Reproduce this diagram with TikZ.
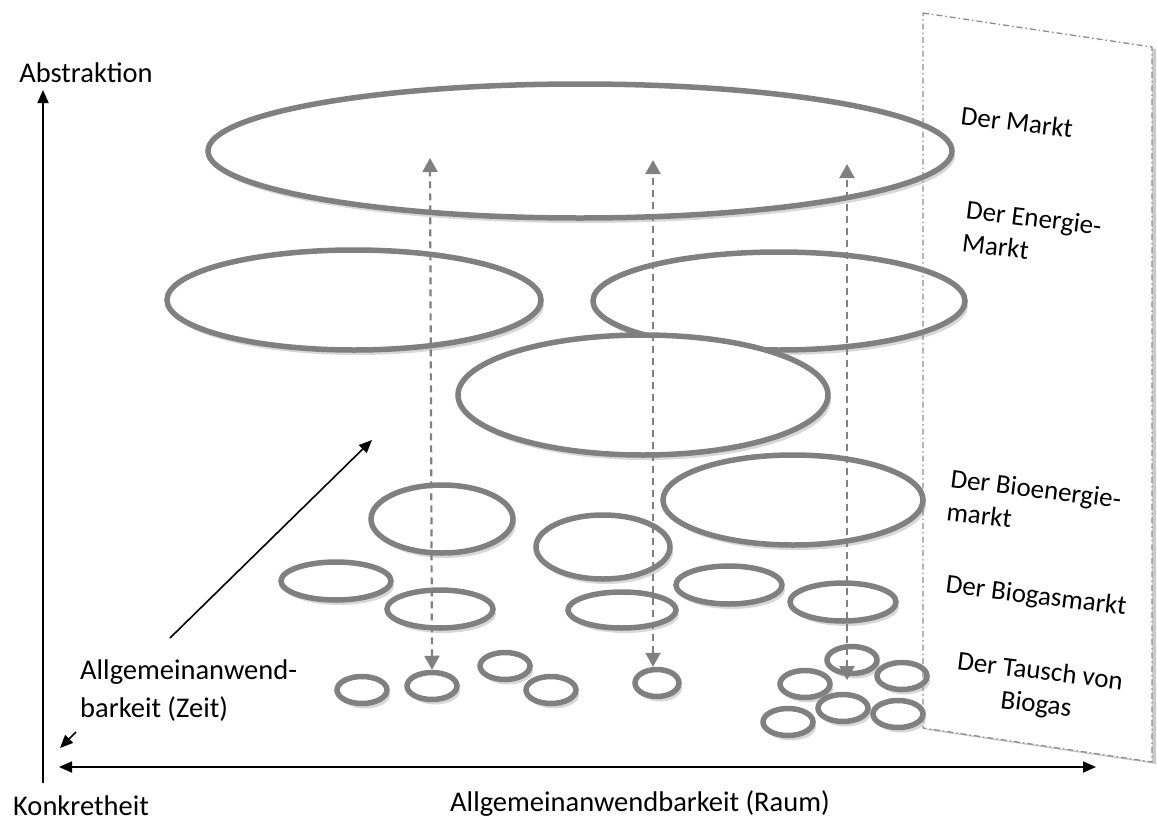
\documentclass[tikz,border=0pt]{standalone}
\usepackage{fontspec}
\setmainfont{Carlito}
\usetikzlibrary{arrows.meta,shadows,shapes.geometric}
\definecolor{ellgray}{HTML}{808080}
\definecolor{pangray}{HTML}{8C8C8C}
\tikzset{
  ell/.style={ellipse, draw=ellgray, line width=5.5pt, fill=white, inner sep=0pt,
    drop shadow={shadow xshift=3pt, shadow yshift=-5pt, opacity=0.22, fill=black!70}},
  darr/.style={draw=ellgray, line width=2.2pt, dash pattern=on 7pt off 5pt,
    {Triangle[width=15pt,length=14pt]}-{Triangle[width=15pt,length=14pt]}},
  axis/.style={draw=black, line width=1.8pt},
  lbl/.style={font=\fontsize{28.5}{38}\selectfont, inner sep=0pt},
  side/.style={font=\fontsize{27}{33}\selectfont, inner sep=0pt, rotate=-7, align=left},
  panel/.style={draw=pangray, line width=1.3pt, dash pattern=on 6pt off 3pt on 1.5pt off 3pt}
}
\begin{document}
\begin{tikzpicture}[x=1pt,y=-1pt]
\useasboundingbox (0,0) rectangle (1157,825);
% side panel
\coordinate (p1) at (923,13);
\coordinate (p2) at (1152,47);
\coordinate (p3) at (1152,762);
\coordinate (p4) at (923,728);
\fill[white, drop shadow={shadow xshift=4pt, shadow yshift=-2pt, opacity=0.35, fill=black!60}] (p1) -- (p2) -- (p3) -- (p4) -- cycle;
% ellipses
\node[ell, minimum width=744pt, minimum height=134pt] (m)  at (580,151) {};
\node[ell, minimum width=374pt, minimum height=100pt] (e1) at (354,300) {};
\node[ell, minimum width=372pt, minimum height=98pt]  (e2) at (779,301) {};
\node[ell, minimum width=370pt, minimum height=120pt] (e3) at (643,395) {};
\node[ell, minimum width=142pt, minimum height=68pt]  (b1) at (442,519) {};
\node[ell, minimum width=134pt, minimum height=64pt]  (b2) at (603,547) {};
\node[ell, minimum width=260pt, minimum height=90pt]  (b3) at (793,500) {};
\node[ell, minimum width=110pt, minimum height=38pt]  (g1) at (336,581) {};
\node[ell, minimum width=106pt, minimum height=38pt]  (g2) at (440,609) {};
\node[ell, minimum width=108pt, minimum height=36pt]  (g3) at (622,610) {};
\node[ell, minimum width=106pt, minimum height=38pt]  (g4) at (729,585) {};
\node[ell, minimum width=106pt, minimum height=38pt]  (g5) at (843,602) {};
\tikzset{sm/.style={ell, minimum width=50pt, minimum height=27pt}}
\node[sm] (s1) at (362,690) {};
\node[sm] (s2) at (432,686) {};
\node[sm] (s3) at (505,666) {};
\node[sm] (s4) at (551,690) {};
\node[sm, minimum width=44pt] (s5) at (657,683) {};
\node[sm] (s6) at (852,660) {};
\node[sm] (s7) at (805,684) {};
\node[sm] (s8) at (902,676) {};
\node[sm] (s9) at (843,708) {};
\node[sm] (s10) at (898,714) {};
\node[sm] (s11) at (788,722) {};
% panel outline
\draw[panel] (p1) -- (p2) -- (p3) -- (p4) -- cycle;
% dashed arrows
\coordinate (t1) at (430,158);
\coordinate (t2) at (653,160);
\coordinate (t3) at (847,164);
\coordinate (u3) at (847,680);
\draw[darr] (s2.north) -- (t1);
\draw[darr] (s5.north -| t2) -- (t2);
\draw[darr] (u3) -- (t3);
% axes
\coordinate (o) at (43,783);
\coordinate (ytop) at (43,90);
\coordinate (xl) at (59,767);
\coordinate (xr) at (1096,767);
\draw[axis, -{Triangle[width=11pt,length=13pt]}] (o) -- (ytop);
\draw[axis, {Triangle[width=11pt,length=13pt]}-{Triangle[width=11pt,length=13pt]}] (xl) -- (xr);
\node[lbl] (abs) at (86,73) {Abstraktion};
\node[lbl] (konk) at (81,806) {Konkretheit};
\node[lbl] (raum) at (640,804) {Allgemeinanwendbarkeit (Raum)};
\node[lbl, anchor=west, align=left] (zeit) at (80,691) {Allgemeinanwend-\\barkeit (Zeit)};
\coordinate (d1) at (170,638);
\coordinate (d2) at (372,440);
\coordinate (d3) at (76,732);
\coordinate (d4) at (60,748);
\draw[line width=1.6pt, -{Triangle[width=11pt,length=13pt]}] (d1) -- (d2);
\draw[line width=1.6pt, -{Triangle[width=11pt,length=13pt]}] (d3) -- (d4);
% side labels
\node[side] (l1) at (1017,122) {Der Markt};
\node[side] (l2) at (1032,234) {Der Energie-\\Markt};
\node[side] (l3) at (1034,505) {Der Bioenergie-\\markt};
\node[side] (l4) at (1036,597) {Der Biogasmarkt};
\node[side, align=center] (l5) at (1038,689) {Der Tausch von\\Biogas};
\end{tikzpicture}
\end{document}
